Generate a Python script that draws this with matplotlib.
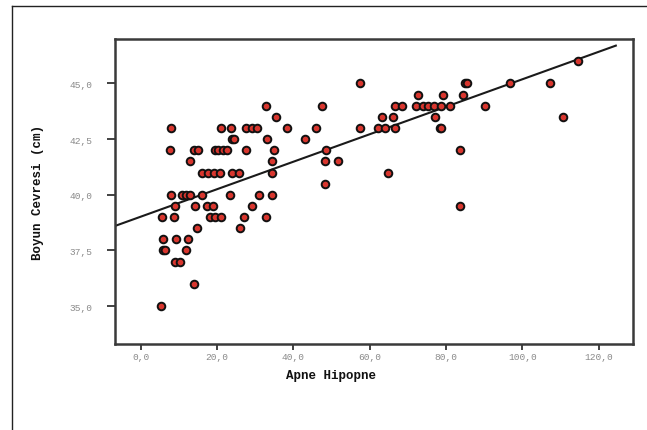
import matplotlib
matplotlib.use("Agg")
import matplotlib.pyplot as plt
from matplotlib.lines import Line2D
from matplotlib.ticker import FuncFormatter, FixedLocator

# Data (Apne Hipopne vs Boyun Cevresi)
apne_hipopne = [
    114.6,
    57.6, 85.1, 85.6, 96.7, 107.2,
    72.8, 79.2, 84.4,
    32.9, 47.6, 66.6, 68.5, 72.2, 74.0, 75.3, 76.8, 78.6, 81.1, 90.3,
    35.6, 63.3, 66.2, 77.2, 110.7,
    8.0, 21.0, 23.6, 27.5, 29.1, 30.5, 38.4, 45.9, 57.5, 62.3, 64.0, 66.7, 78.4, 78.8,
    24.0, 24.5, 33.2, 43.0,
    7.6, 14.0, 15.0, 19.4, 20.4, 21.5, 22.6, 27.7, 35.0, 48.5, 83.6,
    12.9, 34.4, 48.4, 51.8,
    16.0, 17.7, 19.2, 20.7, 24.0, 25.8, 34.3, 64.8,
    48.4,
    7.9, 10.8, 12.0, 12.9, 16.2, 23.5, 31.1, 34.5,
    8.9, 14.2, 17.5, 19.1, 29.2, 83.6,
    5.7, 8.7, 18.2, 19.6, 21.0, 27.2, 32.8,
    14.7, 26.1,
    5.9, 9.2, 12.3,
    6.0, 6.5, 11.9,
    9.0, 10.3,
    14.0,
    5.4,
]
boyun_cevresi = (
    [46.0] * 1 +
    [45.0] * 5 +
    [44.5] * 3 +
    [44.0] * 11 +
    [43.5] * 5 +
    [43.0] * 14 +
    [42.5] * 4 +
    [42.0] * 11 +
    [41.5] * 4 +
    [41.0] * 8 +
    [40.5] * 1 +
    [40.0] * 8 +
    [39.5] * 6 +
    [39.0] * 7 +
    [38.5] * 2 +
    [38.0] * 3 +
    [37.5] * 3 +
    [37.0] * 2 +
    [36.0] * 1 +
    [35.0] * 1
)

# Fit line endpoints
fit_x = [-6.7, 124.5]
fit_y = [38.6, 46.7]

x_ticks = [0, 20, 40, 60, 80, 100, 120]
y_ticks = [35.0, 37.5, 40.0, 42.5, 45.0]
x_label = "Apne Hipopne"
y_label = "Boyun Cevresi (cm)"

W, H = 647, 431
fig = plt.figure(figsize=(W / 100, H / 100), dpi=100)
fig.patch.set_facecolor("white")

ax_l, ax_r, ax_t, ax_b = 115, 633, 39.5, 344.5
ax = fig.add_axes([ax_l / W, 1 - ax_b / H, (ax_r - ax_l) / W, (ax_b - ax_t) / H])

ax.plot(fit_x, fit_y, color="#1a1a1a", lw=1.5, zorder=2)
ax.scatter(apne_hipopne, boyun_cevresi, s=30, facecolor="#d8362e",
           edgecolor="#111111", linewidths=1.4, zorder=3)

ax.set_xlim(-6.7, 129)
ax.set_ylim(33.32, 47.02)

fmt = FuncFormatter(lambda v, p: f"{v:.1f}".replace(".", ","))
ax.xaxis.set_major_locator(FixedLocator(x_ticks))
ax.yaxis.set_major_locator(FixedLocator(y_ticks))
ax.xaxis.set_major_formatter(fmt)
ax.yaxis.set_major_formatter(fmt)

mono = ["Liberation Mono", "DejaVu Sans Mono"]
for lab in ax.get_xticklabels() + ax.get_yticklabels():
    lab.set_family(mono)
    lab.set_fontsize(6.8)
    lab.set_color("#8a8a8a")

ax.tick_params(axis="x", direction="out", length=4, width=1.3, color="#333333", pad=2)
ax.tick_params(axis="y", direction="out", length=6, width=1.3, color="#333333", pad=10)

for sp in ax.spines.values():
    sp.set_color("#3a3a3a")
    sp.set_linewidth(1.8)

# Axis labels
fig.text(331 / W, 1 - 376 / H, x_label, ha="center", va="center",
         family=mono, fontweight="bold", fontsize=9, color="#111111")
fig.text(38 / W, 1 - 192 / H, y_label, ha="center", va="center", rotation=90,
         family=mono, fontweight="bold", fontsize=9, color="#111111")

# Outer frame lines
fig.add_artist(Line2D([12.3 / W, 1.0], [1 - 7.3 / H, 1 - 7.3 / H],
                      transform=fig.transFigure, color="#222222", lw=1.0))
fig.add_artist(Line2D([12.3 / W, 12.3 / W], [0.0, 1 - 7.3 / H],
                      transform=fig.transFigure, color="#222222", lw=1.0))

fig.savefig("out.png", dpi=100, facecolor="white")
